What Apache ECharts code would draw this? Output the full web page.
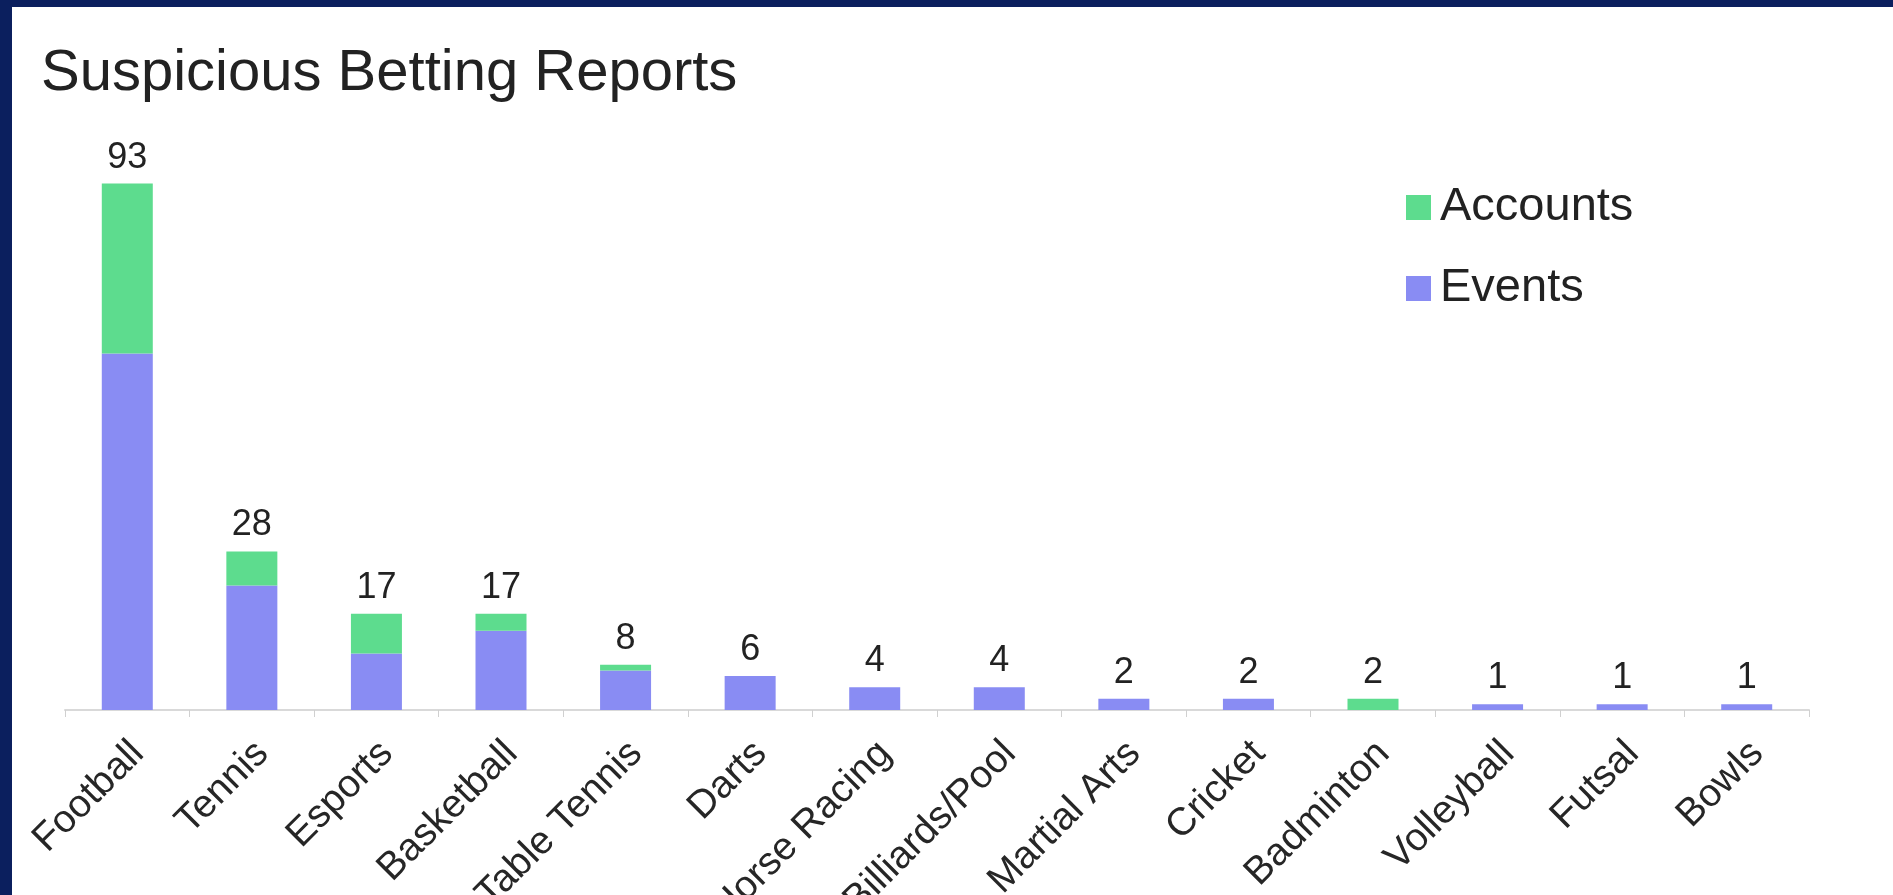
<!DOCTYPE html>
<html>
<head>
<meta charset="utf-8">
<script src="https://cdn.jsdelivr.net/npm/echarts@6/dist/echarts.min.js"></script>
<style>
html,body{margin:0;padding:0;background:#0b1f5e;}
#c{width:1893px;height:895px;}
</style>
</head>
<body>
<div id="c"></div>
<script>
const categories = ['Football','Tennis','Esports','Basketball','Table Tennis','Darts','Horse Racing','Billiards/Pool','Martial Arts','Cricket','Badminton','Volleyball','Futsal','Bowls'];
const events   = [63, 22, 10, 14, 7, 6, 4, 4, 2, 2, 0, 1, 1, 1];
const accounts = [30,  6,  7,  3, 1, 0, 0, 0, 0, 0, 2, 0, 0, 0];
const totals   = [93, 28, 17, 17, 8, 6, 4, 4, 2, 2, 2, 1, 1, 1];

const FONT = '"Liberation Sans", Arial, Helvetica, sans-serif';
const chart = echarts.init(document.getElementById('c'), null, {renderer: 'canvas'});
chart.setOption({
  backgroundColor: '#0b1f5e',
  animation: false,
  textStyle: {fontFamily: FONT},
  graphic: [{
    type: 'rect', z: -10, silent: true,
    shape: {x: 12, y: 7, width: 1893, height: 900},
    style: {fill: '#ffffff'}
  }],
  title: {
    text: 'Suspicious Betting Reports',
    left: 41, top: 45, padding: 0,
    textStyle: {fontFamily: FONT, fontSize: 58, fontWeight: 'normal', color: '#222222'}
  },
  legend: {
    data: ['Accounts', 'Events'],
    orient: 'vertical',
    left: 1401, top: 179,
    itemWidth: 25, itemHeight: 25, itemGap: 34,
    icon: 'rect',
    textStyle: {fontFamily: FONT, fontSize: 47, color: '#222222', lineHeight: 47, padding: [0,0,0,4]}
  },
  grid: {left: 65, right: 84, top: 144, bottom: 185, containLabel: false, outerBoundsMode: 'none'},
  xAxis: {
    type: 'category',
    data: categories,
    axisLine: {lineStyle: {color: '#d9d9d9', width: 2}},
    axisTick: {show: true, length: 7, lineStyle: {color: '#d0d0d0', width: 1}},
    axisLabel: {rotate: 45, interval: 0, margin: 27, verticalAlign: 'top', lineHeight: 30, fontFamily: FONT, fontSize: 39, color: '#262626'}
  },
  yAxis: {type: 'value', min: 0, max: 100, show: false, splitLine: {show: false}},
  series: [
    {
      name: 'Events', type: 'bar', stack: 'total', data: events,
      barWidth: 51,
      itemStyle: {color: '#898cf3'}
    },
    {
      name: 'Accounts', type: 'bar', stack: 'total', data: accounts,
      barWidth: 51,
      itemStyle: {color: '#5ddc8e'},
      label: {
        show: true, position: 'top', distance: 8,
        fontFamily: FONT, fontSize: 36, color: '#222222',
        formatter: p => totals[p.dataIndex]
      }
    }
  ]
});
</script>
</body>
</html>
